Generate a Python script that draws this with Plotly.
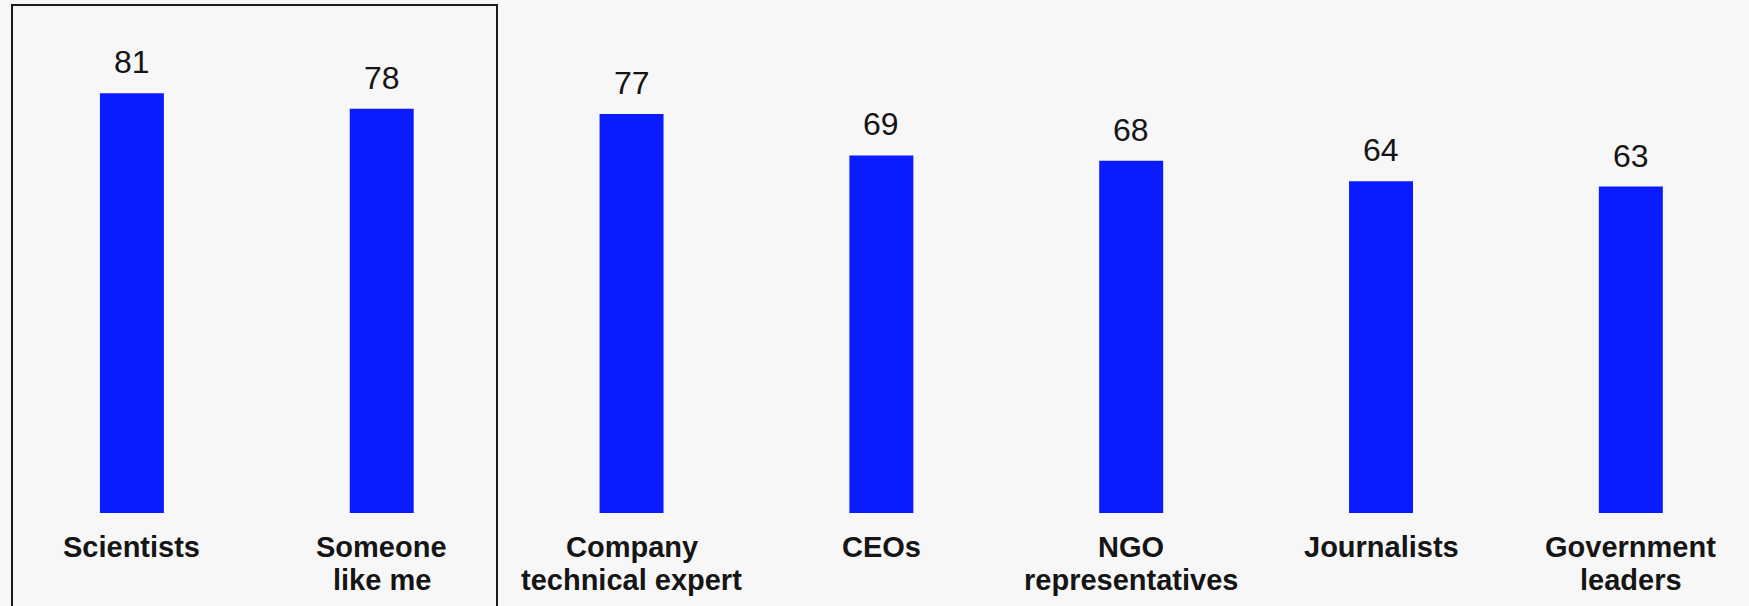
import plotly.graph_objects as go

categories = ["Scientists", "Someone like me", "Company technical expert", "CEOs",
              "NGO representatives", "Journalists", "Government leaders"]
label_lines = [["Scientists"], ["Someone", "like me"], ["Company", "technical expert"],
               ["CEOs"], ["NGO", "representatives"], ["Journalists"], ["Government", "leaders"]]
values = [81, 78, 77, 69, 68, 64, 63]

BAR_COLOR = "#0a1cff"
TEXT_COLOR = "#151515"
BG = "#f7f7f7"
FONT = "Arial, Liberation Sans, sans-serif"

fig = go.Figure()
fig.add_trace(go.Bar(x=categories, y=values, width=0.256, marker=dict(color=BAR_COLOR, line=dict(width=0)),
                     hoverinfo="skip"))

annotations = []
for c, v in zip(categories, values):
    annotations.append(dict(x=c, y=v, xref="x", yref="y", text=str(v), showarrow=False,
                            yanchor="bottom", yshift=11,
                            font=dict(family=FONT, size=32, color=TEXT_COLOR)))
for c, lines in zip(categories, label_lines):
    for i, line in enumerate(lines):
        annotations.append(dict(x=c, y=0, xref="x", yref="paper", text="<b>%s</b>" % line,
                                showarrow=False, yanchor="top", yshift=-16 - 33 * i,
                                font=dict(family=FONT, size=29, color=TEXT_COLOR)))

fig.update_layout(
    width=1749, height=606,
    margin=dict(l=0, r=0, t=0, b=93),
    paper_bgcolor=BG, plot_bgcolor=BG,
    showlegend=False,
    xaxis=dict(range=[-0.528, 6.473], showticklabels=False, showgrid=False, zeroline=False,
               showline=False, ticks=""),
    yaxis=dict(range=[0, 99], visible=False, showgrid=False, zeroline=False),
    annotations=annotations,
    shapes=[dict(type="rect", xref="paper", yref="paper",
                 x0=12 / 1749, x1=497 / 1749, y0=-0.3, y1=(513 - 5) / 513,
                 line=dict(color="#1a1a1a", width=2), fillcolor="rgba(0,0,0,0)", layer="above")],
)

fig.write_html("out.html", config={"displayModeBar": False},
               post_script="document.body.style.margin='0';document.body.style.padding='0';"
                           "document.body.style.background='%s';document.body.style.overflow='hidden';" % BG)
